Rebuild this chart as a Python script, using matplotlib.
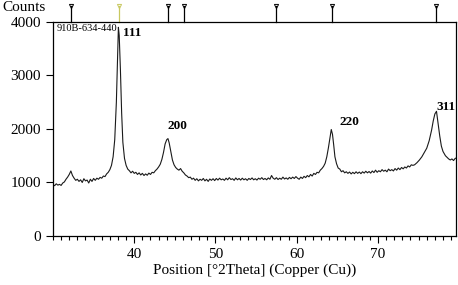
import numpy as np
import matplotlib.pyplot as plt
from matplotlib.ticker import MultipleLocator

plt.rcParams['font.family'] = ['Liberation Serif', 'DejaVu Serif']

# diffractogram (2theta, counts)
two_theta = [
    30.0, 30.2, 30.4, 30.6, 30.8, 31.0, 31.2, 31.4, 31.6, 31.8, 32.0, 32.2, 32.4, 32.6,
    32.8, 33.0, 33.2, 33.4, 33.6, 33.8, 34.0, 34.2, 34.4, 34.6, 34.8, 35.0, 35.2, 35.4,
    35.6, 35.8, 36.0, 36.2, 36.4, 36.6, 36.8, 37.0, 37.2, 37.4, 37.6, 37.8, 37.95, 38.05,
    38.15, 38.3, 38.45, 38.6, 38.8, 39.0, 39.2, 39.4, 39.6, 39.8, 40.0, 40.2, 40.4, 40.6,
    40.8, 41.0, 41.2, 41.4, 41.6, 41.8, 42.0, 42.2, 42.4, 42.6, 42.8, 43.0, 43.2, 43.4,
    43.6, 43.8, 44.0, 44.15, 44.3, 44.5, 44.7, 44.9, 45.1, 45.3, 45.5, 45.7, 45.9, 46.1,
    46.3, 46.5, 46.7, 46.9, 47.1, 47.3, 47.5, 47.7, 47.9, 48.1, 48.3, 48.5, 48.7, 48.9,
    49.1, 49.3, 49.5, 49.7, 49.9, 50.1, 50.3, 50.5, 50.7, 50.9, 51.1, 51.3, 51.5, 51.7,
    51.9, 52.1, 52.3, 52.5, 52.7, 52.9, 53.1, 53.3, 53.5, 53.7, 53.9, 54.1, 54.3, 54.5,
    54.7, 54.9, 55.1, 55.3, 55.5, 55.7, 55.9, 56.1, 56.3, 56.5, 56.7, 56.9, 57.1, 57.3,
    57.5, 57.7, 57.9, 58.1, 58.3, 58.5, 58.7, 58.9, 59.1, 59.3, 59.5, 59.7, 59.9, 60.1,
    60.3, 60.5, 60.7, 60.9, 61.1, 61.3, 61.5, 61.7, 61.9, 62.1, 62.3, 62.5, 62.7, 62.9,
    63.1, 63.3, 63.5, 63.7, 63.9, 64.1, 64.25, 64.4, 64.55, 64.7, 64.9, 65.1, 65.3, 65.5,
    65.7, 65.9, 66.1, 66.3, 66.5, 66.7, 66.9, 67.1, 67.3, 67.5, 67.7, 67.9, 68.1, 68.3,
    68.5, 68.7, 68.9, 69.1, 69.3, 69.5, 69.7, 69.9, 70.1, 70.3, 70.5, 70.7, 70.9, 71.1,
    71.3, 71.5, 71.7, 71.9, 72.1, 72.3, 72.5, 72.7, 72.9, 73.1, 73.3, 73.5, 73.7, 73.9,
    74.1, 74.3, 74.5, 74.8, 75.1, 75.4, 75.7, 76.0, 76.3, 76.6, 76.8, 77.0, 77.2, 77.4,
    77.6, 77.8, 78.0, 78.3, 78.5, 78.7, 78.9, 79.1, 79.3, 79.5, 79.7,
]
counts = [
    960, 940, 975, 950, 965, 945, 990, 1010, 1060, 1100, 1150, 1215, 1130, 1080,
    1040, 1060, 1020, 1050, 1000, 1070, 1030, 1045, 990, 1060, 1020, 1075, 1040, 1080,
    1060, 1095, 1080, 1120, 1110, 1160, 1190, 1240, 1320, 1480, 1800, 2500, 3300, 3900,
    3750, 3100, 2300, 1750, 1450, 1320, 1250, 1220, 1180, 1210, 1170, 1190, 1150, 1180,
    1140, 1170, 1130, 1160, 1135, 1175, 1150, 1190, 1180, 1220, 1250, 1290, 1340, 1430,
    1560, 1720, 1800, 1820, 1740, 1580, 1420, 1330, 1280, 1250, 1230, 1260, 1210, 1180,
    1140, 1120, 1090, 1100, 1060, 1080, 1040, 1070, 1030, 1060, 1040, 1075, 1030, 1060,
    1020, 1065, 1040, 1070, 1035, 1075, 1045, 1080, 1050, 1065, 1040, 1080, 1050, 1090,
    1055, 1070, 1040, 1085, 1050, 1075, 1045, 1080, 1050, 1070, 1040, 1075, 1055, 1085,
    1050, 1070, 1045, 1080, 1060, 1090, 1055, 1075, 1050, 1085, 1060, 1130, 1080, 1060,
    1090, 1055, 1080, 1060, 1100, 1065, 1085, 1060, 1095, 1070, 1100, 1075, 1110, 1080,
    1060, 1100, 1075, 1115, 1090, 1130, 1105, 1150, 1120, 1170, 1150, 1190, 1180, 1230,
    1260, 1300, 1360, 1480, 1650, 1850, 1990, 1900, 1700, 1480, 1350, 1270, 1250, 1200,
    1220, 1180, 1200, 1170, 1195, 1160, 1190, 1165, 1200, 1170, 1195, 1165, 1200, 1175,
    1210, 1180, 1205, 1175, 1215, 1185, 1230, 1190, 1220, 1200, 1240, 1210, 1230, 1200,
    1250, 1220, 1240, 1215, 1260, 1230, 1270, 1240, 1280, 1255, 1290, 1270, 1310, 1290,
    1330, 1320, 1330, 1370, 1420, 1480, 1560, 1640, 1780, 1980, 2150, 2280, 2330, 2100,
    1870, 1680, 1580, 1500, 1470, 1440, 1420, 1440, 1410, 1450, 1460,
]

# reference pattern lines shown above the plot
ref_pos = [32.2, 38.1, 44.1, 46.1, 57.4, 64.3, 77.1]
ref_col = ['black', '#c8c860', 'black', 'black', 'black', 'black', 'black']

peak_labels = ['111', '200', '220', '311']
peak_x = [38.6, 44.15, 65.3, 77.2]
peak_y = [3790, 2060, 2130, 2410]

x_ticks = [40, 50, 60, 70]

fig = plt.figure(figsize=(4.58, 2.85), dpi=100)
ax = fig.add_axes([0.1157, 0.172, 0.8799, 0.751])

ax.plot(two_theta, counts, color='#1a1a1a', lw=0.8)

for p, c in zip(ref_pos, ref_col):
    ax.plot([p, p], [1.0, 1.075], color=c, lw=0.9, clip_on=False,
            transform=ax.get_xaxis_transform())
    ax.plot([p], [1.075], marker='v', ms=3, mfc='none', mew=0.7, color=c, clip_on=False,
            transform=ax.get_xaxis_transform())

for lab, x, y in zip(peak_labels, peak_x, peak_y):
    ax.text(x, y, lab, fontsize=9.5, fontweight='bold', va='center', ha='left')
ax.text(30.4, 3870, '910B-634-440', fontsize=7.5, va='center', ha='left')

ax.set_xlim(30, 79.6)
ax.set_ylim(0, 4000)
ax.set_xticks(x_ticks)
ax.xaxis.set_minor_locator(MultipleLocator(1))
ax.yaxis.set_major_locator(MultipleLocator(1000))
ax.tick_params(axis='both', which='major', direction='out', length=5, width=0.8, labelsize=11)
ax.tick_params(axis='x', which='minor', direction='out', length=3, width=0.8)
for s in ax.spines.values():
    s.set_linewidth(0.9)

ax.set_xlabel('Position [°2Theta] (Copper (Cu))', fontsize=11, labelpad=2)
fig.text(0.006, 0.995, 'Counts', fontsize=11, va='top', ha='left')

plt.savefig('out.png', dpi=100)
